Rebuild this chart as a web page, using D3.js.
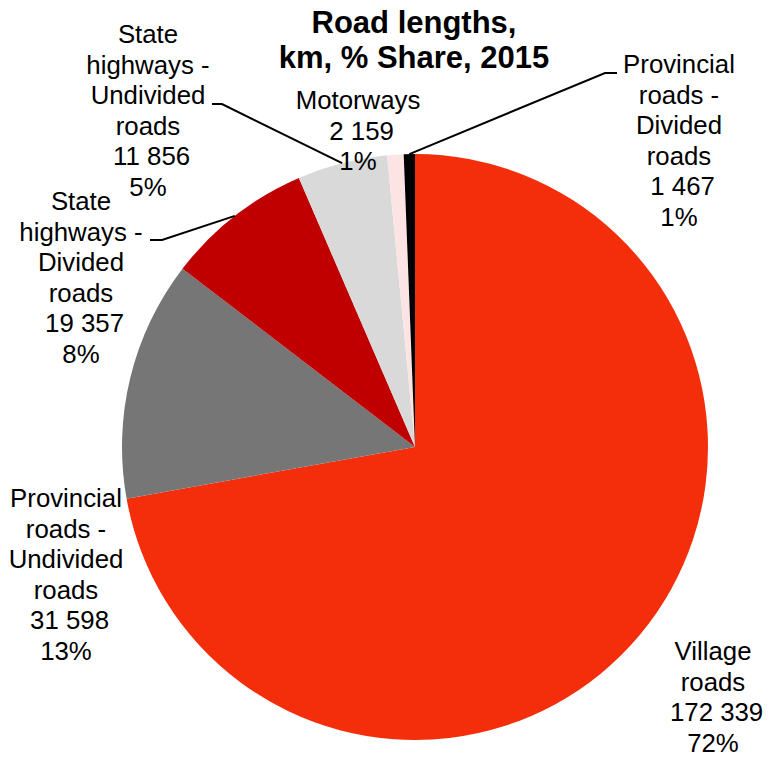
<!DOCTYPE html>
<html>
<head>
<meta charset="utf-8">
<script src="https://cdn.jsdelivr.net/npm/d3@7"></script>
<style>
  body { margin: 0; background: #fff; }
  text { font-family: "Liberation Sans", Arial, sans-serif; fill: #000; }
</style>
</head>
<body>
<div class="pieContainer"></div>
<script>
// data, clockwise from 12 o'clock
const categories = [
  "Village roads",
  "Provincial roads - Undivided roads",
  "State highways - Divided roads",
  "State highways - Undivided roads",
  "Motorways",
  "Provincial roads - Divided roads"
];
const lengths = [172339, 31598, 19357, 11856, 2159, 1467];
const percents = ["72%", "13%", "8%", "5%", "1%", "1%"];
const titleLines = ["Road lengths,", "km, % Share, 2015"];

const colors = ["#F42D0A", "#767676", "#C00000", "#D9D9D9", "#FCE4E4", "#000000"];

// label anchors: centre x, first baseline y, and optional leader start
const labelLayout = [
  {x: 713, y: 660},
  {x: 66, y: 507},
  {x: 81, y: 210, leader: [[150, 240], [162, 240]]},
  {x: 148, y: 43, leader: [[212, 104], [222, 104]]},
  {x: 358, y: 109},
  {x: 679, y: 73, leader: [[617, 73], [605, 73]]}
];

const width = 769, height = 758;
const cx = 415, cy = 447, radius = 293;
const lineH = 30.6;
const wrapW = 132;
const labelSize = "25.8px";

const svg = d3.select(".pieContainer").append("svg")
  .attr("width", width)
  .attr("height", height)
  .attr("viewBox", [0, 0, width, height]);

const data = categories.map((c, i) => ({name: c, value: lengths[i], pct: percents[i], color: colors[i], lay: labelLayout[i]}));

const pie = d3.pie().sort(null).value(d => d.value).startAngle(0).endAngle(2 * Math.PI);
const arc = d3.arc().innerRadius(0).outerRadius(radius);
const arcs = pie(data);

const g = svg.append("g").attr("transform", `translate(${cx},${cy})`);
g.selectAll("path")
  .data(arcs)
  .join("path")
  .attr("fill", d => d.data.color)
  .attr("d", arc);

// leader lines, ending on the outer edge at the slice's mid angle
arcs.forEach(a => {
  const lay = a.data.lay;
  if (!lay.leader) return;
  const mid = (a.startAngle + a.endAngle) / 2;
  const end = [cx + radius * Math.sin(mid), cy - radius * Math.cos(mid)];
  svg.append("path")
    .attr("d", d3.line()([...lay.leader, end]))
    .attr("fill", "none")
    .attr("stroke", "#000")
    .attr("stroke-width", 2);
});

const fmt = v => d3.format(",")(v).replace(/,/g, " ");

// wrap words to the label width
function wrapWords(str) {
  const probe = svg.append("text").style("font-size", labelSize);
  const words = str.split(" ");
  const lines = [];
  let cur = "";
  words.forEach(w => {
    const test = cur ? cur + " " + w : w;
    probe.text(test);
    if (probe.node().getComputedTextLength() > wrapW && cur) {
      lines.push(cur);
      cur = w;
    } else {
      cur = test;
    }
  });
  if (cur) lines.push(cur);
  probe.remove();
  return lines;
}

arcs.forEach(a => {
  const d = a.data;
  const lines = wrapWords(d.name).concat([" " + fmt(d.value), d.pct]);
  const t = svg.append("text")
    .attr("text-anchor", "middle")
    .style("font-size", labelSize)
    .style("white-space", "pre");
  lines.forEach((l, i) => {
    t.append("tspan")
      .attr("x", d.lay.x)
      .attr("y", d.lay.y + i * lineH)
      .text(l);
  });
});

// title
const title = svg.append("text")
  .attr("text-anchor", "middle")
  .style("font-size", "31px")
  .style("font-weight", "bold");
titleLines.forEach((l, i) => {
  title.append("tspan").attr("x", 414).attr("y", 33 + i * 35).text(l);
});
</script>
</body>
</html>
